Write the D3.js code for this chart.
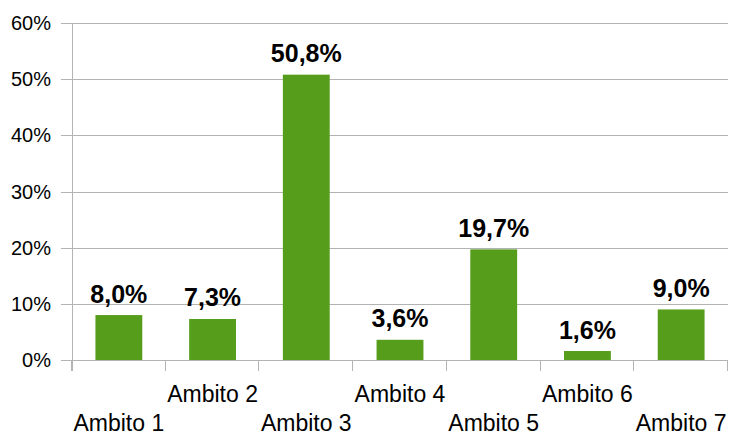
<!DOCTYPE html>
<html>
<head>
<meta charset="utf-8">
<script src="https://cdn.jsdelivr.net/npm/d3@7"></script>
<style>
  body { margin: 0; background: #fff; }
  text { font-family: "Liberation Sans", Arial, sans-serif; }
</style>
</head>
<body>
<div id="chart"></div>
<script>
var width = 729;
var height = 434;

var categories = ["Ambito 1", "Ambito 2", "Ambito 3", "Ambito 4", "Ambito 5", "Ambito 6", "Ambito 7"];
var values = [8.0, 7.3, 50.8, 3.6, 19.7, 1.6, 9.0];
var yTicks = [0, 10, 20, 30, 40, 50, 60];

var plotLeft = 72, plotRight = 728, plotTop = 23, plotBottom = 360;

var x = d3.scaleBand()
  .domain(categories)
  .range([plotLeft, plotRight]);

var y = d3.scaleLinear()
  .domain([0, 60])
  .range([plotBottom, plotTop]);

var svg = d3.select("#chart").append("svg")
  .attr("width", width)
  .attr("height", height);

// horizontal grid lines
svg.selectAll(".grid")
  .data(yTicks)
  .enter().append("line")
  .attr("class", "grid")
  .attr("x1", plotLeft - 11)
  .attr("x2", plotRight)
  .attr("y1", function(d) { return Math.round(y(d)) + 0.5; })
  .attr("y2", function(d) { return Math.round(y(d)) + 0.5; })
  .attr("stroke", "#b3b3b3")
  .attr("stroke-width", 1);

// y axis line
svg.append("line")
  .attr("x1", plotLeft + 0.5).attr("x2", plotLeft + 0.5)
  .attr("y1", plotTop).attr("y2", plotBottom + 11)
  .attr("stroke", "#b3b3b3");

// category ticks
var catEdges = categories.map(function(c) { return x(c); }).concat([plotRight]);
svg.selectAll(".ctick")
  .data(catEdges)
  .enter().append("line")
  .attr("class", "ctick")
  .attr("x1", function(d) { return Math.round(d) - 0.5; })
  .attr("x2", function(d) { return Math.round(d) - 0.5; })
  .attr("y1", plotBottom)
  .attr("y2", plotBottom + 11)
  .attr("stroke", "#b3b3b3");

// y tick labels
svg.selectAll(".ylab")
  .data(yTicks)
  .enter().append("text")
  .attr("class", "ylab")
  .attr("x", 51)
  .attr("y", function(d) { return y(d) + 7; })
  .attr("text-anchor", "end")
  .attr("font-size", 20)
  .attr("fill", "#000")
  .text(function(d) { return d + "%"; });

// bars
var barW = x.bandwidth() * 0.5;
svg.selectAll(".bar")
  .data(values)
  .enter().append("rect")
  .attr("class", "bar")
  .attr("x", function(d, i) { return x(categories[i]) + (x.bandwidth() - barW) / 2; })
  .attr("y", function(d) { return y(d); })
  .attr("width", barW)
  .attr("height", function(d) { return y(0) - y(d); })
  .attr("fill", "#579d1c");

// value labels
svg.selectAll(".vlab")
  .data(values)
  .enter().append("text")
  .attr("class", "vlab")
  .attr("x", function(d, i) { return x(categories[i]) + x.bandwidth() / 2; })
  .attr("y", function(d) { return y(d) - 12.5; })
  .attr("text-anchor", "middle")
  .attr("font-size", 25)
  .attr("font-weight", "bold")
  .attr("fill", "#000")
  .text(function(d) { return d.toFixed(1).replace(".", ",") + "%"; });

// category labels, staggered
svg.selectAll(".xlab")
  .data(categories)
  .enter().append("text")
  .attr("class", "xlab")
  .attr("x", function(d) { return x(d) + x.bandwidth() / 2; })
  .attr("y", function(d, i) { return i % 2 == 0 ? 431 : 402; })
  .attr("text-anchor", "middle")
  .attr("font-size", 23)
  .attr("fill", "#000")
  .text(function(d) { return d; });
</script>
</body>
</html>
